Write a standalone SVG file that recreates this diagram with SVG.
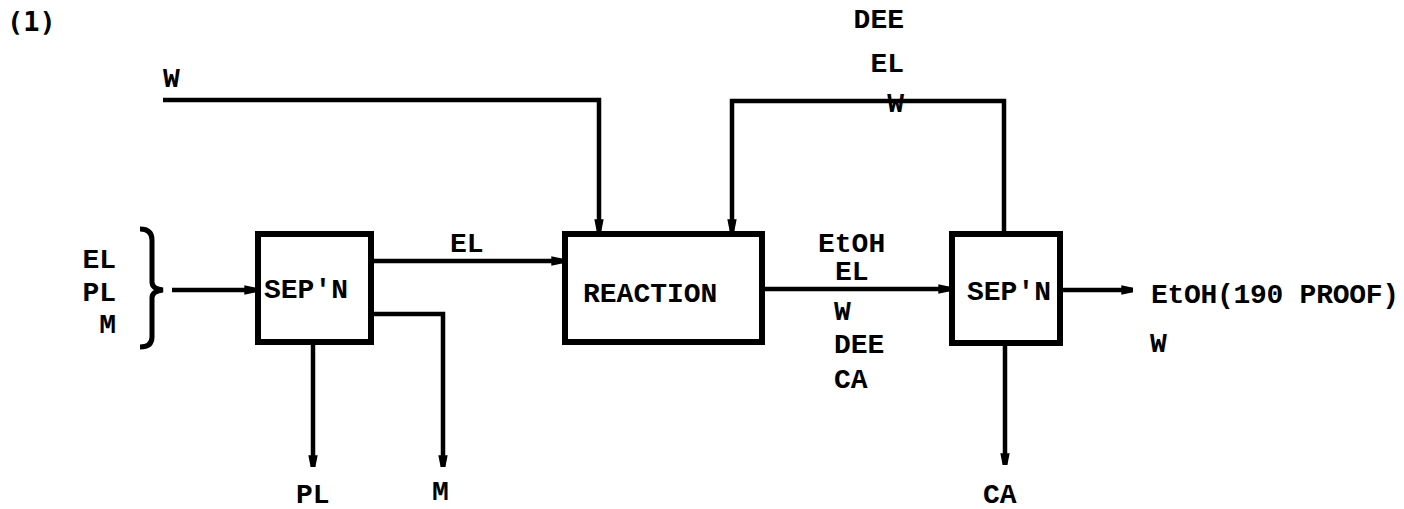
<svg xmlns="http://www.w3.org/2000/svg" width="1404" height="509" viewBox="0 0 1404 509">
<defs>
<style>
.t{font-family:"Liberation Mono","Courier New",monospace;font-weight:bold;font-size:28px;fill:#000}
.ts{font-family:"DejaVu Sans Mono",monospace;font-weight:bold;font-size:27px;fill:#000}
.box{fill:#fff;stroke:#000;stroke-width:6}
.ln{fill:none;stroke:#000;stroke-width:4.5;stroke-linejoin:miter}
</style>
<marker id="ah" viewBox="0 0 10 10" refX="10" refY="5" markerWidth="4.5" markerHeight="2.6" orient="auto" markerUnits="strokeWidth">
<path d="M0,1 L10,3 L10,7 L0,9 Z" fill="#000"/>
</marker>
</defs>
<rect width="1404" height="509" fill="#fff"/>
<text class="ts" x="7" y="31">(1)</text>

<g id="connectors">
<path class="ln" d="M163,100 H599 V231" marker-end="url(#ah)"/>
<path class="ln" d="M1004,233 V101 H732 V231" marker-end="url(#ah)"/>
<path class="ln" d="M172,290 H256" marker-end="url(#ah)"/>
<path class="ln" d="M371,261 H563" marker-end="url(#ah)"/>
<path class="ln" d="M371,314 H443 V467" marker-end="url(#ah)"/>
<path class="ln" d="M313,342 V467" marker-end="url(#ah)"/>
<path class="ln" d="M762,289 H950" marker-end="url(#ah)"/>
<path class="ln" d="M1060,290 H1133" marker-end="url(#ah)"/>
<path class="ln" d="M1005,343 V465" marker-end="url(#ah)"/>
<path d="M140,229 Q152,229 152,240 V282 Q152,289 163,290 Q152,291 152,298 V337 Q152,347 140,347" fill="none" stroke="#000" stroke-width="5"/>
</g>

<g id="labels">
<text class="t" x="163" y="87">W</text>
<text class="t" x="116" y="268" text-anchor="end">EL</text>
<text class="t" x="116" y="301" text-anchor="end">PL</text>
<text class="t" x="116" y="333" text-anchor="end">M</text>
<text class="t" x="450" y="252">EL</text>
<text class="t" x="296" y="503">PL</text>
<text class="t" x="432" y="500">M</text>
<text class="t" x="904" y="28" text-anchor="end">DEE</text>
<text class="t" x="904" y="72" text-anchor="end">EL</text>
<text class="t" x="904" y="112" text-anchor="end">W</text>
<text class="t" x="818" y="252">EtOH</text>
<text class="t" x="835" y="280">EL</text>
<text class="t" x="834" y="320">W</text>
<text class="t" x="834" y="353">DEE</text>
<text class="t" x="834" y="388">CA</text>
<text class="t" x="1151" y="303" textLength="248">EtOH(190 PROOF)</text>
<text class="t" x="1150" y="352">W</text>
<text class="t" x="983" y="503">CA</text>
</g>

<g id="sep1">
<rect class="box" x="258" y="234" width="113" height="108"/>
<text class="t" x="264" y="298">SEP'N</text>
</g>
<g id="reaction">
<rect class="box" x="565" y="234" width="197" height="108"/>
<text class="t" x="583" y="302">REACTION</text>
</g>
<g id="sep2">
<rect class="box" x="952" y="234" width="108" height="109"/>
<text class="t" x="967" y="300">SEP'N</text>
</g>
</svg>
